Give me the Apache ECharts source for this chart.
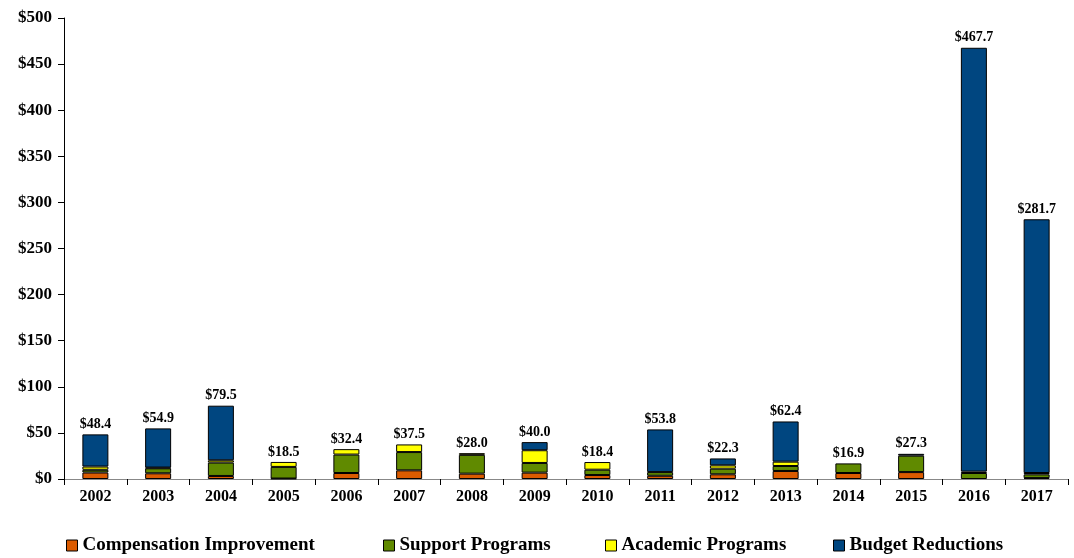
<!DOCTYPE html>
<html><head><meta charset="utf-8">
<script src="https://cdn.jsdelivr.net/npm/echarts@6/dist/echarts.min.js"></script>
<style>html,body{margin:0;padding:0;background:#fff}#c{width:1074px;height:558px}</style>
</head><body><div id="c"></div>
<script>
var years = ['2002','2003','2004','2005','2006','2007','2008','2009','2010','2011','2012','2013','2014','2015','2016','2017'];
var compensation = [7.0, 6.2, 3.3, 0.5, 6.5, 9.4, 5.8, 6.9, 4.3, 3.5, 5.1, 8.7, 6.5, 7.5, 0, 1.0];
var support      = [3.0, 5.4, 14.5, 12.6, 20.0, 19.8, 20.4, 10.5, 5.8, 4.0, 6.1, 5.4, 10.4, 17.8, 6.5, 4.0];
var academic     = [3.5, 0.8, 2.5, 5.4, 5.9, 8.3, 1.8, 13.8, 8.3, 0, 3.6, 4.7, 0, 0, 1.5, 1.5];
var budget       = [34.9, 42.5, 59.2, 0, 0, 0, 0, 8.8, 0, 46.3, 7.5, 43.6, 0, 2.0, 459.7, 275.2];
var totals       = [48.4, 54.9, 79.5, 18.5, 32.4, 37.5, 28.0, 40.0, 18.4, 53.8, 22.3, 62.4, 16.9, 27.3, 467.7, 281.7];
var yTicks = [0, 50, 100, 150, 200, 250, 300, 350, 400, 450, 500];
var seriesNames = ['Compensation Improvement','Support Programs','Academic Programs','Budget Reductions'];

var serif = 'Liberation Serif';
function seg(name, data, color) {
  return {
    name: name, type: 'bar', stack: 's', barWidth: 26,
    data: data.map(function (v) { return v === 0 ? '-' : v; }),
    itemStyle: {color: color, borderColor: '#000', borderWidth: 1},
    emphasis: {disabled: true}
  };
}
var legendLefts = [66, 383, 605, 833];
var legends = seriesNames.map(function (n, i) {
  return {
    data: [n], top: 536, left: legendLefts[i], padding: 0, itemWidth: 11, itemHeight: 11,
    icon: 'rect', itemStyle: {borderColor: '#000', borderWidth: 1},
    textStyle: {fontFamily: serif, fontWeight: 'bold', fontSize: 19, color: '#000'}
  };
});
var chart = echarts.init(document.getElementById('c'));
chart.setOption({
  animation: false,
  grid: {left: 64, right: 6, top: 18, bottom: 79},
  legend: legends,
  xAxis: {
    type: 'category', data: years,
    axisLine: {lineStyle: {color: '#888', width: 1}},
    axisTick: {show: true, length: 6, lineStyle: {color: '#000'}},
    axisLabel: {fontFamily: serif, fontWeight: 'bold', fontSize: 16, color: '#000', margin: 10}
  },
  yAxis: {
    type: 'value', min: 0, max: 500, interval: 50,
    axisLine: {show: true, lineStyle: {color: '#000'}},
    axisTick: {show: true, length: 6, lineStyle: {color: '#000'}},
    splitLine: {show: false},
    axisLabel: {fontFamily: serif, fontWeight: 'bold', fontSize: 17, color: '#000', margin: 12,
      formatter: function (v) { return yTicks.indexOf(v) >= 0 ? '$' + v : ''; }}
  },
  series: [
    seg(seriesNames[0], compensation, '#DB5B00'),
    seg(seriesNames[1], support, '#608A00'),
    seg(seriesNames[2], academic, '#FFFF00'),
    seg(seriesNames[3], budget, '#004680'),
    {
      name: 'total', type: 'bar', stack: 's', barWidth: 26,
      data: totals.map(function () { return 0; }),
      itemStyle: {color: 'transparent', borderWidth: 0},
      label: {show: true, position: 'top', distance: 3,
        fontFamily: serif, fontWeight: 'bold', fontSize: 14, color: '#000',
        formatter: function (p) { return '$' + totals[p.dataIndex].toFixed(1); }},
      emphasis: {disabled: true}
    }
  ]
});
</script></body></html>
